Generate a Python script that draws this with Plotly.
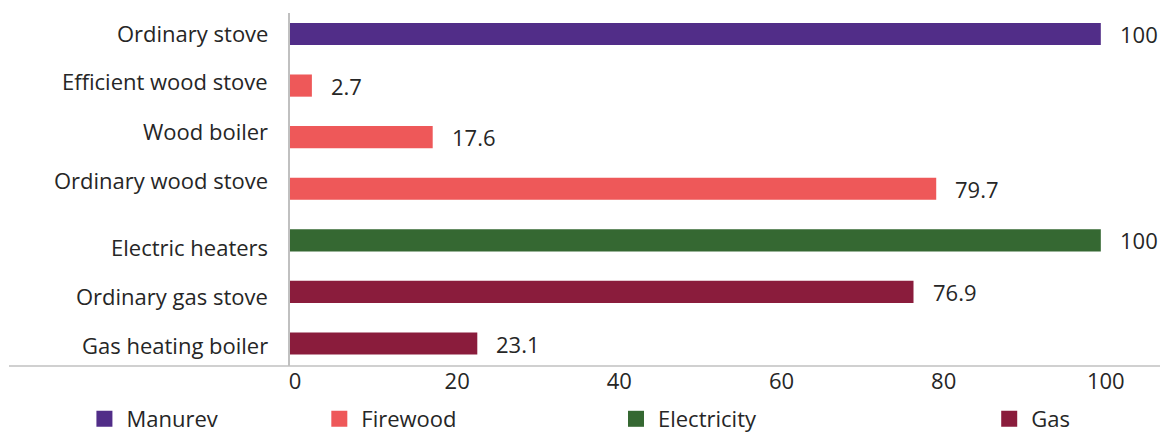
import plotly.graph_objects as go

# Heating appliance shares (%) grouped by fuel type
categories = [
    "Ordinary stove",
    "Efficient wood stove",
    "Wood boiler",
    "Ordinary wood stove",
    "Electric heaters",
    "Ordinary gas stove",
    "Gas heating boiler",
]
fuels = ["Manurev", "Firewood", "Electricity", "Gas"]
fuel_colors = ["#512D88", "#EE5859", "#356832", "#8A1C3C"]
fuel_of_category = ["Manurev", "Firewood", "Firewood", "Firewood",
                    "Electricity", "Gas", "Gas"]
values = [100, 2.7, 17.6, 79.7, 100, 76.9, 23.1]
x_ticks = [0, 20, 40, 60, 80, 100]

# small vertical nudges (px, positive = up) for the category captions
label_nudge = [1, 5, 6, 9, -7, -4, -1]

FONT = "Open Sans"
SIZE = 22
TEXT = "#262626"
AXIS = "#C0C0C0"

fig = go.Figure()

legend_x = [-0.2386, 0.0314, 0.3724, 0.8014]
for i, (fuel, color) in enumerate(zip(fuels, fuel_colors)):
    ys = [c for c, f in zip(categories, fuel_of_category) if f == fuel]
    xs = [v for v, f in zip(values, fuel_of_category) if f == fuel]
    fig.add_trace(go.Bar(
        x=xs, y=ys, orientation="h", name=fuel,
        marker=dict(color=color, line=dict(width=0)),
        width=0.43, showlegend=False,
        hoverinfo="x+y",
    ))
    # square legend key for the fuel
    fig.add_trace(go.Scatter(
        x=[None], y=[None], mode="markers", name=fuel,
        marker=dict(symbol="square", size=16, color=color,
                    line=dict(width=0)),
        legend="legend" if i == 0 else f"legend{i + 1}",
        hoverinfo="skip",
    ))

# value labels at the end of each bar
for c, v in zip(categories, values):
    fig.add_annotation(
        x=v, y=c, xref="x", yref="y", text=f"{v:g}", showarrow=False,
        xanchor="left", xshift=17,
        font=dict(family=FONT, size=SIZE, color=TEXT),
    )

# category captions to the left of the axis
for c, dy in zip(categories, label_nudge):
    fig.add_annotation(
        x=0, y=c, xref="paper", yref="y", text=c, showarrow=False,
        xanchor="right", xshift=-20, yshift=dy,
        font=dict(family=FONT, size=SIZE, color=TEXT),
    )

# baseline extending under the category labels
fig.add_shape(type="line", xref="paper", yref="paper",
              x0=-0.323, x1=1, y0=0, y1=0,
              line=dict(color=AXIS, width=1.5))

legends = {}
for i in range(4):
    key = "legend" if i == 0 else f"legend{i + 1}"
    legends[key] = dict(
        x=legend_x[i], y=1 - 419 / 432, xanchor="left", yanchor="middle",
        yref="container", orientation="h", bgcolor="rgba(0,0,0,0)",
        itemwidth=34,
        font=dict(family=FONT, size=SIZE, color=TEXT),
        itemclick=False, itemdoubleclick=False,
    )

fig.update_layout(
    width=1162, height=432,
    margin=dict(l=290, r=2, t=13, b=66, autoexpand=False),
    paper_bgcolor="white", plot_bgcolor="white",
    barmode="overlay",
    showlegend=True,
    font=dict(family=FONT, size=SIZE, color=TEXT),
    xaxis=dict(
        range=[0, 107.3], tickvals=x_ticks, showgrid=False, zeroline=False,
        showline=False, ticks="", ticklabelshift=5, automargin=False,
        tickfont=dict(family=FONT, size=SIZE, color=TEXT),
    ),
    yaxis=dict(
        categoryorder="array", categoryarray=categories,
        range=[6.436, -0.407], showgrid=False, zeroline=False,
        showline=True, linecolor=AXIS, linewidth=1.5, ticks="",
        showticklabels=False, automargin=False,
    ),
    **legends,
)

fig.write_html("out.html")
